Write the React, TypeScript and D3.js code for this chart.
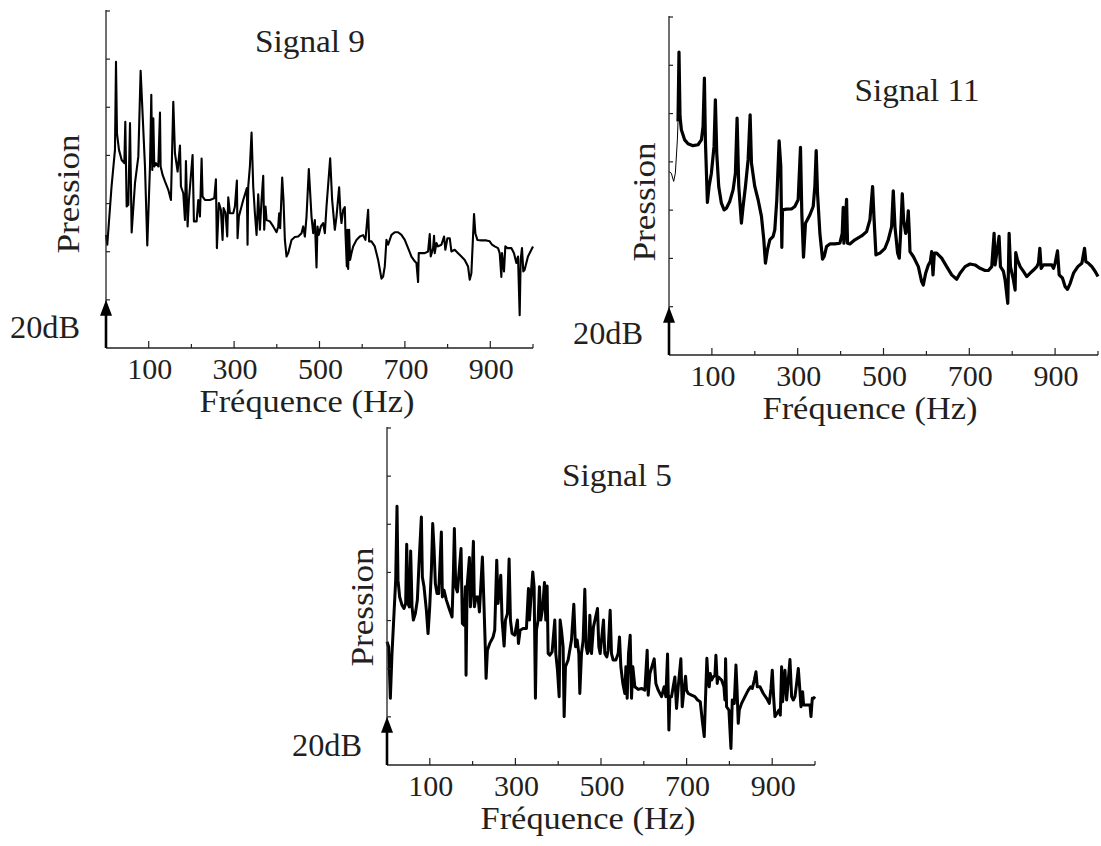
import React from "react";
import * as d3 from "d3";

// ---------- DATA (frequency in Hz, level in dB) ----------
const freqTicks = [100, 200, 300, 400, 500, 600, 700, 800, 900, 1000];
const freqLabels = [100, 300, 500, 700, 900];
const dbTicks = [20, 40, 60, 80, 100, 120, 140];
const titles = ["Signal 9", "Signal 11", "Signal 5"];
const xLabel = "Fréquence (Hz)";
const yLabel = "Pression";
const scaleLabel = "20dB";

const signal9: [number, number][] = [
  [0, 47.0], [3, 42.9], [13, 67.1], [21, 82.3], [23.4, 118.9], [25.7, 89.2], [30.4, 82.3], [36.7, 78.1],
  [42.9, 76.8], [45.2, 94.0], [48.4, 58.8], [52.3, 59.5], [56.2, 93.4], [60.1, 48.0], [67.9, 68.5],
  [75.7, 79.5], [81.1, 115.2], [91.3, 75.4], [96.7, 42.6], [103, 75.4], [106.1, 105.2], [108.4, 74.0],
  [110.8, 95.4], [113.1, 75.4], [117, 76.8], [122.5, 75.4], [126.4, 97.8], [127.9, 75.4], [132.6, 71.9],
  [138.1, 69.2], [145.9, 65.7], [152.1, 61.5], [157.6, 102.3], [161.5, 80.9], [167.7, 73.3], [173.2, 84.1],
  [175.5, 67.1], [181, 64.3], [184.9, 53.2], [187.2, 77.7], [191.1, 50.5], [194.2, 61.5], [202.8, 80.2],
  [205.9, 52.6], [212.2, 52.6], [216.1, 61.5], [220, 54.6], [223.9, 78.7], [226.2, 62.9], [231.7, 61.5],
  [243.4, 61.5], [253.5, 62.2], [257.4, 70.1], [259.7, 41.5], [264.4, 60.2], [269.1, 57.4], [273, 44.9],
  [275.3, 58.1], [280, 56.0], [283.9, 46.3], [286.3, 62.6], [290.2, 56.0], [298, 56.0], [301.9, 58.8],
  [306.5, 69.6], [308.1, 45.6], [311.2, 54.6], [321.4, 61.5], [329.9, 66.4], [331.5, 42.9], [333.1, 67.1],
  [337, 75.4], [340.9, 89.5], [344.8, 67.1], [348.7, 56.0], [352.6, 47.0], [356.5, 63.9], [360.4, 49.1],
  [364.3, 61.5], [368.2, 71.5], [370.5, 49.1], [373.6, 58.8], [376, 53.2], [383.8, 52.6], [391.6, 50.5],
  [399.4, 48.1], [403.3, 50.5], [405.6, 56.0], [407.9, 49.8], [412.6, 70.8], [415.7, 61.5], [418.9, 44.9],
  [422.8, 38.0], [426.7, 39.4], [434.5, 44.9], [442.3, 46.1], [450.1, 46.3], [457.9, 47.7], [461.8, 50.5],
  [465.7, 46.3], [469.6, 54.6], [475, 74.3], [481.3, 54.6], [485.2, 47.7], [489.1, 53.2], [493, 33.5],
  [495.3, 50.5], [498.4, 47.0], [503.1, 50.5], [508.6, 51.9], [512.5, 47.7], [516.4, 58.8], [525, 78.8],
  [529.6, 61.5], [535.9, 49.1], [539.8, 54.6], [546, 66.8], [549.1, 56.0], [551.5, 51.9], [555.4, 57.4],
  [559.3, 58.5], [560.8, 47.7], [564, 33.9], [565.5, 49.1], [567.1, 32.8], [569.4, 49.1], [571.7, 36.6],
  [574.9, 39.4], [578.8, 42.2], [586.6, 44.9], [594.4, 46.3], [602.2, 46.9], [607.6, 44.9], [613.9, 57.4],
  [616.2, 44.3], [621.7, 44.3], [629.5, 42.2], [637.3, 36.6], [645.1, 28.8], [649, 29.7], [652.9, 33.9],
  [656.8, 44.9], [660.7, 42.9], [668.5, 47.0], [676.3, 48.1], [684.1, 48.1], [691.9, 47.0], [699.7, 44.9],
  [707.5, 41.5], [715.3, 38.0], [723.1, 36.0], [727, 35.3], [730.9, 27.4], [732.4, 39.4], [738.7, 39.4],
  [746.5, 39.4], [754.3, 40.1], [758.2, 47.3], [760.5, 38.0], [766, 41.5], [768.3, 46.6], [769.9, 39.4],
  [773.8, 43.6], [777.7, 42.2], [785.5, 42.9], [791.7, 46.3], [794.8, 40.8], [799.5, 45.6], [805, 45.6],
  [808.9, 40.1], [816.7, 40.8], [824.5, 39.4], [832.3, 38.0], [840.1, 36.6], [847.9, 33.9], [851.8, 28.4],
  [855.7, 31.1], [861.9, 55.6], [865, 47.7], [869.7, 44.9], [879.1, 44.7], [890.8, 44.7], [898.6, 44.3],
  [904, 42.9], [910.3, 42.2], [918.1, 41.5], [922, 39.4], [925.9, 29.5], [927.4, 39.4], [932.1, 31.8],
  [935.2, 42.2], [939.9, 41.5], [949.3, 41.5], [955.5, 39.4], [961, 35.3], [964.9, 38.0], [968.8, 13.6],
  [971.1, 36.6], [974.2, 41.5], [977.3, 31.8], [980.4, 32.5], [988.2, 38.0], [1000, 42.2],
];

const signal11Start: [number, number][] = [
  [0, 76.0], [5.4, 75.3], [10.9, 71.9], [14.8, 75.3], [19.5, 89.1], [21, 96.7],
];

const signal11: [number, number][] = [
  [21, 96.7], [23.3, 125.5], [25.7, 98.8], [28.8, 93.3], [36.6, 89.1], [44.3, 87.5], [56, 86.7],
  [67.7, 87.1], [75.5, 89.1], [79.4, 94.7], [82.5, 114.7], [84.8, 89.1], [89.5, 63.2], [93.4, 69.8],
  [98.8, 75.3], [105, 86.4], [108.1, 105.7], [111.3, 83.6], [115.9, 69.8], [122.1, 62.9], [128.4, 60.1],
  [133.8, 60.8], [141.6, 63.6], [149.4, 68.4], [154.8, 75.3], [158.7, 98.1], [162.6, 69.8], [168.8, 54.6],
  [172.7, 61.5], [178.2, 69.8], [184.4, 80.8], [189.1, 99.5], [192.2, 79.5], [199.9, 69.8], [207.7, 64.3],
  [215.5, 57.4], [221, 47.7], [224.8, 38.0], [229.5, 43.5], [235, 47.7], [242.7, 49.1], [246.6, 51.8],
  [251.3, 64.3], [256.7, 88.7], [260.6, 78.1], [263, 44.6], [264.5, 60.1], [273.9, 60.4], [285.5, 60.5],
  [293.3, 61.5], [301.1, 64.3], [306.5, 86.0], [309.6, 58.7], [313.5, 40.5], [318.2, 54.6], [328.3, 58.0],
  [336.1, 61.5], [340, 69.8], [343.1, 84.7], [346.2, 67.0], [351.7, 50.4], [357.9, 39.7], [361.8, 40.8],
  [367.2, 44.9], [375, 46.0], [386.7, 46.0], [398.3, 46.3], [403.8, 50.4], [406.1, 61.2], [407.7, 46.3],
  [410, 50.4], [413.9, 64.5], [416.2, 46.3], [421.7, 46.0], [433.3, 47.7], [448.9, 49.3], [460.6, 51.1],
  [468.4, 56.0], [474.6, 69.8], [477.7, 57.4], [482.4, 41.5], [491.7, 42.2], [503.4, 44.2], [511.1, 47.7],
  [518.9, 53.2], [522.8, 68.0], [526.7, 53.2], [532.9, 42.2], [536.8, 40.1], [539.9, 50.4], [543.8, 66.8],
  [546.9, 56.0], [551.6, 50.4], [554.7, 51.8], [557.8, 59.7], [560.2, 50.4], [561.7, 42.8], [569.5, 40.8],
  [581.2, 36.6], [588.9, 30.4], [592.8, 29.0], [598.3, 33.9], [604.5, 37.3], [609.2, 38.7], [612.3, 42.8],
  [615.4, 33.2], [618.5, 42.2], [624, 42.2], [635.6, 40.1], [647.3, 36.6], [659, 33.2], [670.6, 31.4],
  [678.4, 33.9], [690.1, 36.6], [701.8, 37.7], [713.4, 37.3], [725.1, 35.9], [736.8, 35.0], [744.5, 35.0],
  [752.3, 36.6], [757.8, 50.4], [760.1, 37.3], [769.4, 49.1], [772.6, 36.6], [779.6, 34.6], [783.4, 31.1],
  [789.7, 21.4], [792.8, 50.4], [795.9, 36.6], [802.9, 31.1], [806.8, 26.9], [808.3, 42.4], [812.2, 39.4],
  [818.5, 36.6], [826.2, 34.6], [834, 32.5], [841.8, 33.9], [849.6, 35.2], [857.4, 36.6], [861.2, 38.0],
  [864.4, 44.2], [867.5, 35.9], [872.9, 37.3], [880.7, 37.3], [892.4, 37.3], [896.3, 35.9], [900.1, 38.0],
  [905.6, 43.1], [909.5, 33.2], [917.3, 31.8], [923.5, 28.3], [928.9, 27.2], [935.2, 29.7], [942.9, 33.9],
  [953, 36.6], [962.4, 38.0], [968.6, 44.2], [971.7, 38.7], [977.9, 38.0], [985.7, 36.6], [993.5, 34.6],
  [1000, 32.5],
];

const signal5: [number, number][] = [
  [0, 51.2], [3.9, 49.1], [7.8, 27.7], [11.7, 46.3], [15.6, 60.2], [20.3, 76.8], [23.4, 107.5], [25.7, 76.8],
  [29.6, 69.8], [35.1, 66.4], [39.7, 65.0], [43.6, 67.1], [46, 91.7], [49.1, 67.1], [52.2, 65.7], [55.3, 88.9],
  [58.5, 65.7], [61.6, 60.2], [66.2, 62.9], [70.9, 68.5], [74.8, 83.7], [80.3, 103.0], [82.6, 78.1],
  [86.5, 74.0], [92, 64.3], [95.9, 54.6], [99.8, 65.7], [103.7, 80.9], [106.8, 100.3], [109.9, 89.9],
  [113, 75.4], [116.9, 71.2], [120.8, 71.2], [127, 96.8], [129.4, 69.8], [133.3, 72.6], [138.7, 68.5],
  [146.5, 64.3], [152, 61.5], [155.1, 79.5], [157.4, 98.2], [160.6, 74.0], [164.5, 71.9], [173, 89.9],
  [176.1, 58.8], [180, 58.1], [183.2, 74.0], [184.7, 37.3], [187.1, 74.0], [192.5, 86.2], [194.9, 65.7],
  [197.2, 71.2], [201.9, 92.9], [204.2, 65.7], [208.1, 69.8], [212.8, 69.8], [215.9, 63.6], [222.9, 86.4],
  [226, 69.8], [229.9, 47.7], [231.5, 36.0], [234.6, 47.7], [240.1, 50.5], [247.9, 53.2], [251.7, 56.0],
  [256.4, 85.1], [259.5, 67.1], [265.8, 78.8], [268.9, 60.2], [273.6, 49.4], [276.7, 60.2], [281.4, 62.9],
  [285.3, 85.6], [288.4, 60.2], [292.3, 54.6], [298.5, 53.9], [304.7, 60.2], [307.1, 50.5], [311, 56.0],
  [318, 56.7], [325.8, 56.7], [330.5, 73.3], [332.8, 60.2], [340.6, 80.2], [343.7, 74.0], [346.8, 27.7],
  [349.2, 56.0], [353.1, 60.2], [356.2, 74.0], [359.3, 60.2], [364, 65.7], [367.9, 75.8], [371, 60.2],
  [374.1, 74.4], [376.5, 46.3], [380.4, 45.6], [385.8, 47.0], [392, 60.2], [394.4, 46.3], [398.3, 39.4],
  [402.2, 28.4], [404.5, 60.2], [407.6, 56.0], [411.5, 49.1], [413.9, 20.1], [417, 40.8], [423.2, 43.6],
  [431, 51.9], [436.5, 66.8], [440.4, 49.1], [444.3, 51.9], [448.2, 46.3], [450.5, 29.7], [454.4, 46.3],
  [458.3, 51.9], [462.2, 73.0], [465.3, 49.1], [468.4, 46.3], [471.5, 47.7], [473.9, 62.2], [477.8, 46.3],
  [482.4, 57.4], [491.8, 65.0], [494.9, 49.1], [498, 46.3], [505.8, 60.2], [508.9, 46.3], [513.6, 44.9],
  [516.7, 47.7], [521.4, 64.3], [524.5, 46.3], [528.4, 43.6], [534.7, 43.6], [540.1, 46.3], [543.2, 53.2],
  [546.4, 40.8], [551, 33.9], [555.7, 29.7], [558.1, 40.8], [561.2, 27.7], [564.3, 46.3], [568.2, 53.9],
  [571.3, 27.7], [574.4, 40.8], [579.1, 32.5], [586.9, 31.4], [594.7, 31.8], [602.5, 31.1], [607.9, 47.7],
  [610.3, 29.0], [614.2, 38.0], [624.3, 44.1], [628.2, 33.9], [633.7, 31.1], [641.4, 28.4], [647.7, 32.5],
  [651.6, 28.4], [655.5, 46.1], [658.6, 14.5], [660.9, 28.4], [664.8, 28.4], [668.7, 32.5], [672.6, 36.6],
  [676.5, 23.5], [680.4, 32.5], [686.6, 44.1], [689.8, 24.2], [693.7, 31.1], [697.6, 36.9], [699.9, 31.1],
  [703.8, 29.7], [711.6, 29.0], [719.4, 28.4], [725.6, 27.0], [731.9, 26.3], [736.5, 18.7], [741.2, 11.8],
  [745.1, 32.5], [747.4, 44.3], [750.6, 33.9], [752.9, 32.5], [755.3, 38.0], [758.4, 35.3], [762.3, 36.6],
  [766.2, 37.3], [768.5, 45.6], [771.6, 33.9], [773.9, 36.6], [781.7, 35.3], [787.2, 32.5], [789.5, 27.0],
  [791.1, 44.1], [793.4, 24.2], [798.9, 22.8], [803.6, 6.9], [806.7, 27.0], [811.4, 25.6], [815.3, 41.5],
  [817.6, 32.5], [820.7, 17.3], [823.1, 22.8], [828.5, 25.6], [836.3, 28.4], [844.1, 31.1], [849.6, 32.5],
  [853.5, 31.8], [858.2, 35.3], [862.1, 38.7], [865.2, 32.5], [871.4, 32.5], [879.2, 29.7], [887, 27.7],
  [893.2, 25.6], [897.1, 31.8], [900.2, 39.4], [903.3, 28.4], [906.4, 20.1], [911.1, 21.4], [915.8, 22.8],
  [918.9, 20.7], [922, 40.8], [924.4, 26.3], [929.8, 39.4], [933.7, 27.0], [937.6, 35.3], [941.5, 43.8],
  [945.4, 28.4], [949.3, 27.0], [953.2, 28.4], [957.1, 33.9], [961, 40.1], [964.1, 32.5], [967.2, 24.2],
  [971.1, 30.4], [973.4, 24.9], [978.1, 24.9], [984.4, 24.9], [988.3, 24.9], [990.6, 20.1], [993.7, 27.7],
  [996.8, 27.7], [1000, 28.4],
];

// ---------- LAYOUT ----------
const FONT = "'Liberation Serif', 'Times New Roman', serif";
const TEXT = "#231f20";

type PanelCfg = {
  title: string;
  data: [number, number][];
  thin?: [number, number][];
  x0: number; x1: number; yBottom: number; yTop: number;
  strokeW: number;
  titleX: number; titleY: number; titleLen: number;
  presX: number; presY: number;
  dbX: number; dbY: number;
};

const panels: PanelCfg[] = [
  { title: titles[0], data: signal9, x0: 106, x1: 533, yBottom: 348, yTop: 11, strokeW: 2.1,
    titleX: 310, titleY: 52, titleLen: 110, presX: 79, presY: 194, dbX: 80, dbY: 338 },
  { title: titles[1], data: signal11, thin: signal11Start, x0: 669, x1: 1098, yBottom: 355, yTop: 17, strokeW: 3.2,
    titleX: 917, titleY: 101, titleLen: 125, presX: 655, presY: 202, dbX: 643, dbY: 344 },
  { title: titles[2], data: signal5, x0: 387, x1: 815, yBottom: 765, yTop: 428, strokeW: 3,
    titleX: 617, titleY: 486, titleLen: 110, presX: 373, presY: 607, dbX: 362, dbY: 756 },
];

function Panel({ p }: { p: PanelCfg }) {
  const x = d3.scaleLinear().domain([0, 1000]).range([p.x0, p.x1]);
  const y = d3.scaleLinear().domain([0, 140]).range([p.yBottom, p.yTop]);
  const line = d3.line<[number, number]>().x((d) => x(d[0])).y((d) => y(d[1]));
  const tip = y(20);
  return (
    <g>
      {/* curve */}
      {p.thin && <path d={line(p.thin) || ""} fill="none" stroke="#000" strokeWidth={1} strokeLinejoin="round" />}
      <path d={line(p.data) || ""} fill="none" stroke="#000" strokeWidth={p.strokeW} strokeLinejoin="round" />
      {/* axes */}
      <line x1={p.x0} x2={p.x0} y1={p.yTop - 1} y2={p.yBottom} stroke="#222" strokeWidth={1.3} />
      <line x1={p.x0} x2={p.x1} y1={p.yBottom} y2={p.yBottom} stroke="#222" strokeWidth={1.3} />
      {dbTicks.map((t) => (
        <line key={"y" + t} x1={p.x0} x2={p.x0 + 4} y1={y(t)} y2={y(t)} stroke="#222" strokeWidth={1.2} />
      ))}
      {freqTicks.map((t) => {
        const major = freqLabels.includes(t);
        return (
          <line key={"x" + t} x1={x(t)} x2={x(t)} y1={p.yBottom} y2={p.yBottom - (major ? 7 : 4)}
            stroke="#222" strokeWidth={1.2} />
        );
      })}
      {freqLabels.map((t) => (
        <text key={"l" + t} x={x(t) + 1} y={p.yBottom + 31} textAnchor="middle" fontSize={30}
          fontFamily={FONT} fill={TEXT}>{t}</text>
      ))}
      {/* 20 dB arrow */}
      <line x1={p.x0} x2={p.x0} y1={p.yBottom} y2={tip + 12} stroke="#000" strokeWidth={2.6} />
      <path d={`M${p.x0},${tip} L${p.x0 - 6},${tip + 16} L${p.x0 + 6},${tip + 16} Z`} fill="#000" />
      <text x={p.dbX} y={p.dbY} textAnchor="end" fontSize={32} fontFamily={FONT} fill={TEXT}
        textLength={70} lengthAdjust="spacingAndGlyphs">{scaleLabel}</text>
      {/* labels */}
      <text x={p.x0 + 201} y={p.yBottom + 64} textAnchor="middle" fontSize={32} fontFamily={FONT} fill={TEXT}
        textLength={215} lengthAdjust="spacingAndGlyphs">{xLabel}</text>
      <text transform={`translate(${p.presX},${p.presY}) rotate(-90)`} textAnchor="middle" fontSize={32}
        fontFamily={FONT} fill={TEXT} textLength={119} lengthAdjust="spacingAndGlyphs">{yLabel}</text>
      <text x={p.titleX} y={p.titleY} textAnchor="middle" fontSize={32} fontFamily={FONT} fill={TEXT}
        textLength={p.titleLen} lengthAdjust="spacingAndGlyphs">{p.title}</text>
    </g>
  );
}

export default function App() {
  return (
    <svg width={1101} height={846} viewBox="0 0 1101 846"
      style={{ position: "absolute", left: 0, top: 0, background: "#fff" }}>
      <rect width={1101} height={846} fill="#fff" />
      {panels.map((p) => <Panel key={p.title} p={p} />)}
    </svg>
  );
}
